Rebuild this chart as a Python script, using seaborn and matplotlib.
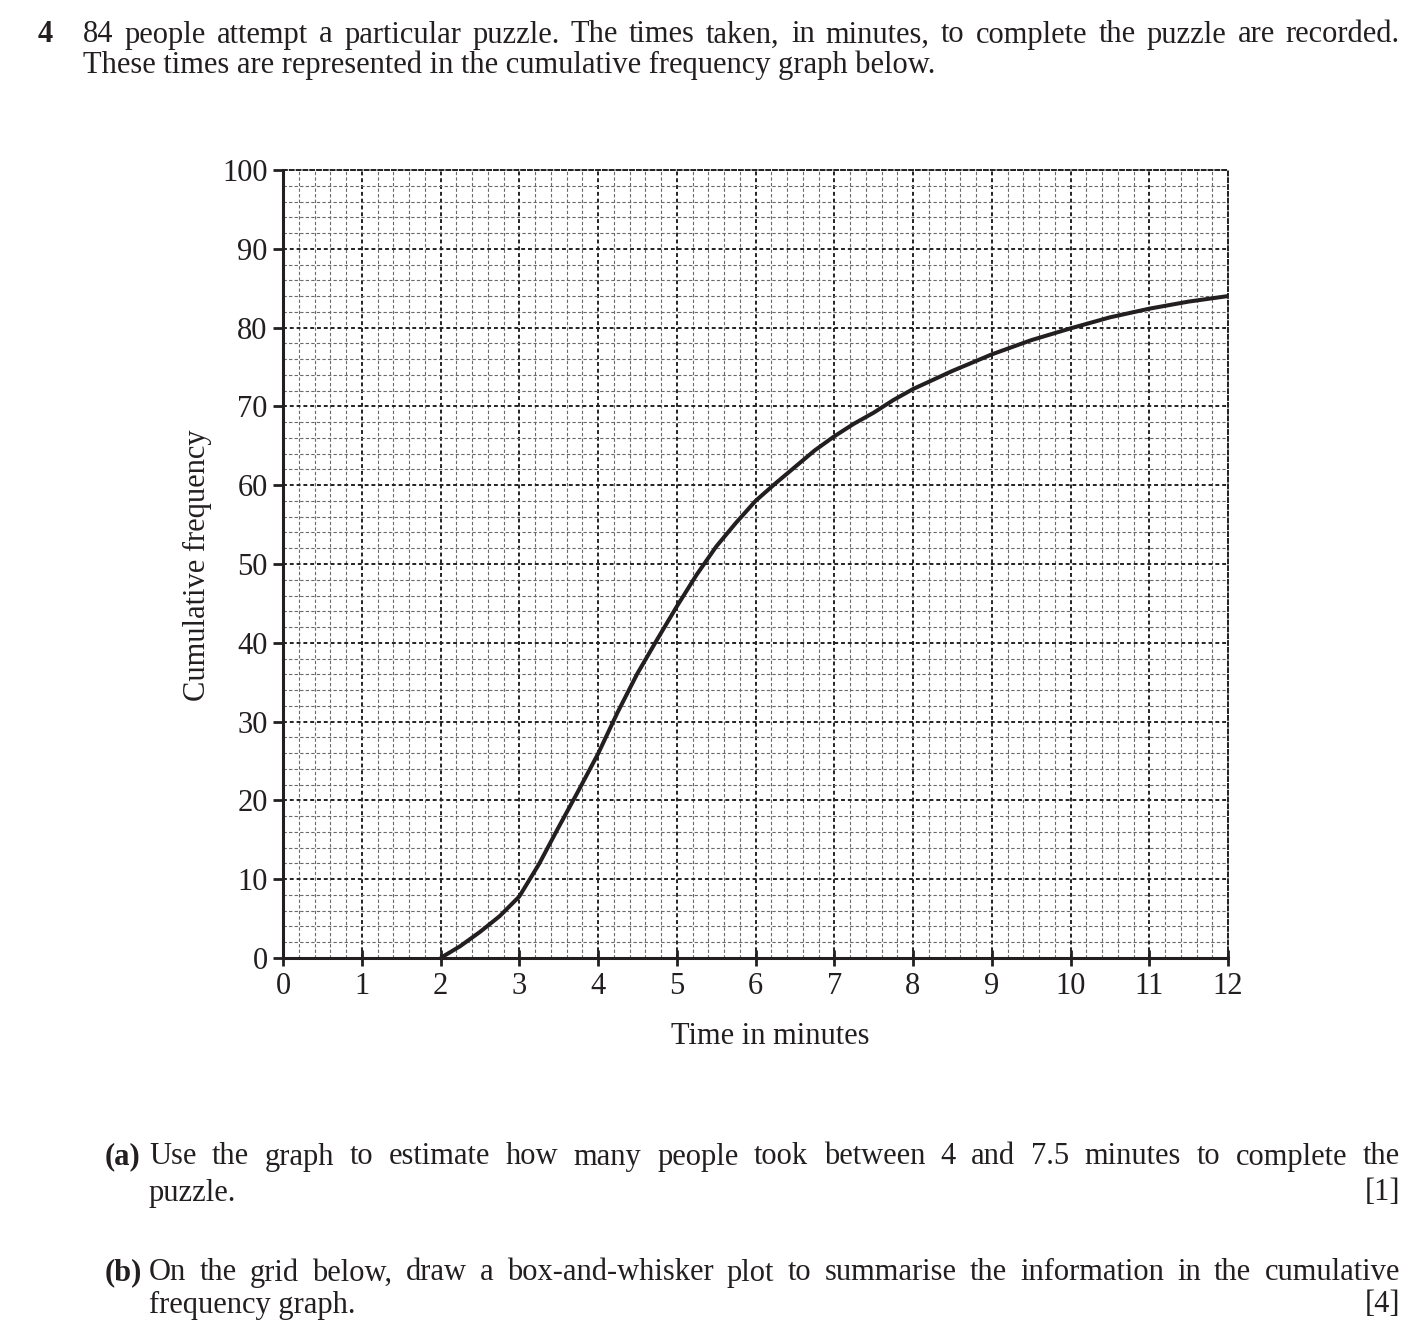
import matplotlib
matplotlib.use('Agg')
import matplotlib.pyplot as plt
from matplotlib.ticker import MultipleLocator
import numpy as np
import seaborn as sns
import pandas as pd

# values
times = [2.0, 2.25, 2.5, 2.75, 3.0, 3.25, 3.5, 3.75, 4.0, 4.25, 4.5, 4.75, 5.0,
         5.25, 5.5, 5.75, 6.0, 6.25, 6.5, 6.75, 7.0, 7.25, 7.5, 7.75, 8.0,
         8.5, 9.0, 9.5, 10.0, 10.5, 11.0, 11.5, 12.0]
cum_freq = [0.0, 1.5, 3.3, 5.3, 7.8, 11.9, 16.6, 21.2, 25.9, 31.2, 36.1, 40.4, 44.6,
            48.6, 52.2, 55.2, 58.0, 60.2, 62.3, 64.4, 66.2, 67.8, 69.2, 70.8, 72.2,
            74.5, 76.6, 78.4, 79.9, 81.3, 82.4, 83.3, 84.0]
x_ticks = list(range(0, 13))
y_ticks = list(range(0, 101, 10))

INK = '#231f20'

sns.set_theme(style='white')
plt.rcParams['font.family'] = ['Liberation Serif', 'DejaVu Serif']

fig = plt.figure(figsize=(14.2, 13.43), dpi=100)
ax = fig.add_axes([283 / 1420, 385 / 1343, 945 / 1420, 788 / 1343])

df = pd.DataFrame({'time': times, 'cf': cum_freq})
sns.lineplot(data=df, x='time', y='cf', ax=ax, color=INK, linewidth=2.9,
             zorder=5, solid_capstyle='butt', solid_joinstyle='round')

ax.set_xlim(0, 12)
ax.set_ylim(0, 100)
ax.set_xticks(x_ticks)
ax.set_yticks(y_ticks)
ax.xaxis.set_minor_locator(MultipleLocator(0.2))
ax.yaxis.set_minor_locator(MultipleLocator(2))

# graph paper grid
ax.grid(which='minor', color='#6a6a6a', linestyle=(0, (3, 2)), linewidth=0.8)
ax.grid(which='major', color='#222222', linestyle=(0, (2, 1.5)), linewidth=1.4)
ax.set_axisbelow(True)

for side in ['left', 'bottom']:
    ax.spines[side].set_color(INK)
    ax.spines[side].set_linewidth(2.2)
for side in ['top', 'right']:
    ax.spines[side].set_color('#222222')
    ax.spines[side].set_linewidth(1.4)
    ax.spines[side].set_linestyle((0, (2, 1.5)))

ax.tick_params(which='major', axis='y', direction='out', length=7, width=2,
               color=INK, labelsize=22, labelcolor=INK, pad=4, left=True)
ax.tick_params(which='major', axis='x', direction='inout', length=12, width=2,
               color=INK, labelsize=22, labelcolor=INK, pad=4, bottom=True)
ax.tick_params(which='minor', length=0)
ax.set_xlabel('')
ax.set_ylabel('')

fig.text(770 / 1420, 1 - 1037 / 1343, 'Time in minutes', fontsize=22, color=INK,
         ha='center', va='center')
fig.text(197 / 1420, 1 - 565 / 1343, 'Cumulative frequency', fontsize=22, color=INK,
         ha='center', va='center', rotation=90)

renderer = fig.canvas.get_renderer()


def justify(line, y, left=149, right=1400, size=22):
    words = line.split(' ')
    objs = [fig.text(0, 1 - y / 1343, w, fontsize=size, color=INK, va='center')
            for w in words]
    widths = [o.get_window_extent(renderer).width for o in objs]
    gap = (right - left - sum(widths)) / (len(words) - 1)
    xpos = left
    for o, w in zip(objs, widths):
        o.set_x(xpos / 1420)
        xpos += w + gap


def put(s, x, y, size=22, weight='normal', ha='left'):
    fig.text(x / 1420, 1 - y / 1343, s, fontsize=size, color=INK, va='center',
             ha=ha, fontweight=weight)


put('4', 38, 35, weight='bold')
justify('84 people attempt a particular puzzle. The times taken, in minutes, to complete the puzzle are recorded.',
        35, left=83, right=1400)
put('These times are represented in the cumulative frequency graph below.', 83, 65)

put('(a)', 105, 1157, weight='bold')
justify('Use the graph to estimate how many people took between 4 and 7.5 minutes to complete the',
        1157, left=149, right=1400)
put('puzzle.', 149, 1193)
put('[1]', 1400, 1193, ha='right')

put('(b)', 105, 1273, weight='bold')
justify('On the grid below, draw a box-and-whisker plot to summarise the information in the cumulative',
        1273, left=149, right=1400)
put('frequency graph.', 149, 1305)
put('[4]', 1400, 1305, ha='right')

fig.savefig('out.png', dpi=100)
